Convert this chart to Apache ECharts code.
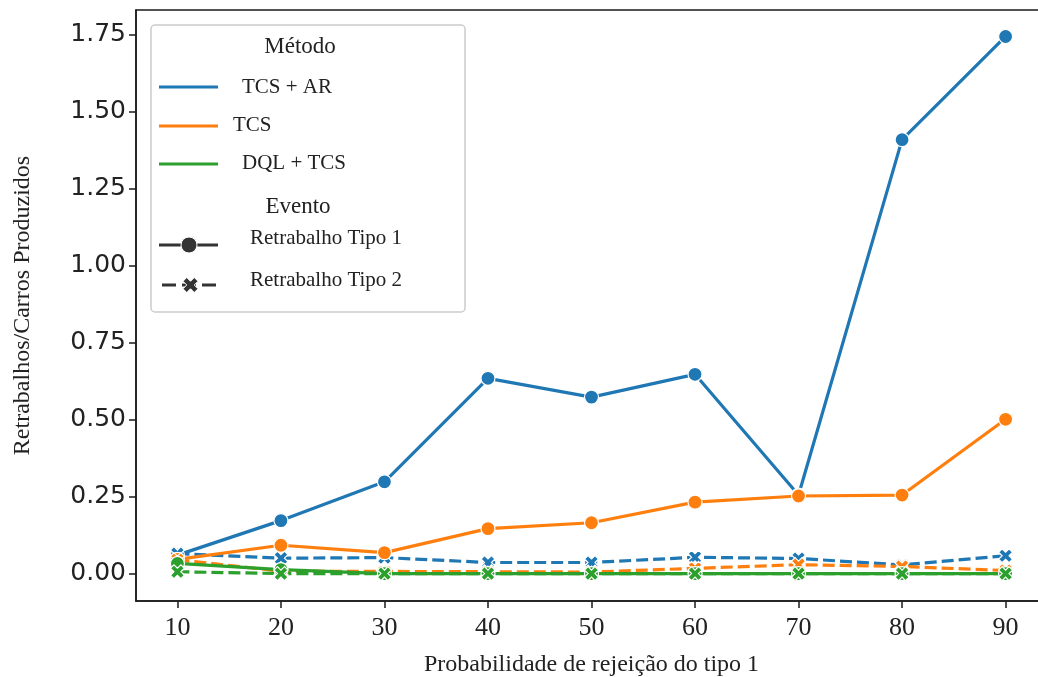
<!DOCTYPE html>
<html><head><meta charset="utf-8">
<script src="https://cdn.jsdelivr.net/npm/echarts@6/dist/echarts.min.js"></script>
<style>html,body{margin:0;padding:0;background:#fff}#c{width:1038px;height:677px}</style>
</head><body><div id="c"></div>
<script>
const xValues = [10, 20, 30, 40, 50, 60, 70, 80, 90];
const yTicks = [0, 0.25, 0.5, 0.75, 1.0, 1.25, 1.5, 1.75];
const tcsArTipo1 = [0.06, 0.172, 0.298, 0.634, 0.573, 0.647, 0.255, 1.409, 1.744];
const tcsTipo1 = [0.046, 0.092, 0.068, 0.146, 0.165, 0.232, 0.252, 0.255, 0.501];
const dqlTcsTipo1 = [0.033, 0.013, 0.0, 0.0, 0.0, 0.0, 0.0, 0.0, 0.0];
const tcsArTipo2 = [0.065, 0.05, 0.052, 0.036, 0.036, 0.053, 0.049, 0.028, 0.058];
const tcsTipo2 = [0.045, 0.008, 0.007, 0.006, 0.005, 0.017, 0.029, 0.023, 0.01];
const dqlTcsTipo2 = [0.006, 0.0, 0.0, 0.0, 0.0, 0.0, 0.0, 0.0, 0.0];

const BLUE = '#1f77b4', ORANGE = '#ff7f0e', GREEN = '#2ca02c';
const XSHAPE = [[0,3],[3,0],[6,3],[9,0],[12,3],[9,6],[12,9],[9,12],[6,9],[3,12],[0,9],[3,6]];
const XPATH = 'path://M' + XSHAPE.map(p => p.join(',')).join(' L') + ' Z';
const pairs = a => xValues.map((x, i) => [x, a[i]]);

function mk(name, data, color, dashed) {
  return {
    name: name, type: 'line', data: pairs(data),
    symbol: dashed ? XPATH : 'circle',
    symbolSize: 14,
    showSymbol: true,
    lineStyle: { color: color, width: 3.2, type: dashed ? [12, 5] : 'solid' },
    itemStyle: { color: color, borderColor: '#fff', borderWidth: 1.2 },
    emphasis: { disabled: true },
    animation: false
  };
}
const xPts = XSHAPE.map(p => [183 + p[0]*1.25, 277.5 + p[1]*1.25]);

const chart = echarts.init(document.getElementById('c'), null, { renderer: 'canvas' });
const serif = 'Liberation Serif';
const lx = 159, lx2 = 218;
const entryFont = '21px "Liberation Serif"', titleFont = '23px "Liberation Serif"';
chart.setOption({
  backgroundColor: '#fff',
  animation: false,
  grid: { left: 136, top: 10, width: 911, height: 591, outerBoundsMode: 'none', containLabel: false, show: true, borderColor: '#1a1a1a', borderWidth: 1.5, backgroundColor: 'transparent' },
  xAxis: {
    type: 'value', min: 6, max: 94,
    name: 'Probabilidade de rejeição do tipo 1', nameLocation: 'middle', nameGap: 52,
    nameTextStyle: { fontFamily: serif, fontSize: 24, color: '#222' },
    axisLine: { show: true, onZero: false, lineStyle: { color: '#1a1a1a', width: 1.5 } },
    axisTick: { show: true, length: 7, customValues: xValues, lineStyle: { color: '#1a1a1a', width: 1.5 } },
    axisLabel: { customValues: xValues, fontFamily: serif, fontSize: 26, color: '#222', margin: 14 },
    splitLine: { show: false }
  },
  yAxis: {
    type: 'value', min: -0.089, max: 1.83,
    name: 'Retrabalhos/Carros Produzidos', nameLocation: 'middle', nameGap: 101, nameRotate: 90,
    nameTextStyle: { fontFamily: serif, fontSize: 24, color: '#222' },
    axisLine: { show: true, onZero: false, lineStyle: { color: '#1a1a1a', width: 1.5 } },
    axisTick: { show: true, length: 7, customValues: yTicks, lineStyle: { color: '#1a1a1a', width: 1.5 } },
    axisLabel: { customValues: yTicks, formatter: v => v.toFixed(2), fontFamily: 'DejaVu Sans', fontSize: 25, color: '#222', margin: 10 },
    splitLine: { show: false }
  },
  series: [
    mk('TCS + AR / Tipo 1', tcsArTipo1, BLUE, false),
    mk('TCS + AR / Tipo 2', tcsArTipo2, BLUE, true),
    mk('TCS / Tipo 1', tcsTipo1, ORANGE, false),
    mk('TCS / Tipo 2', tcsTipo2, ORANGE, true),
    mk('DQL + TCS / Tipo 1', dqlTcsTipo1, GREEN, false),
    mk('DQL + TCS / Tipo 2', dqlTcsTipo2, GREEN, true)
  ],
  graphic: [
    { type: 'rect', shape: { x: 151, y: 25, width: 314, height: 287, r: 4 }, style: { fill: 'rgba(255,255,255,0.85)', stroke: '#cccccc', lineWidth: 1.5 }, z: 100 },
    { type: 'text', x: 300, y: 47, style: { text: 'Método', font: titleFont, fill: '#222', align: 'center', verticalAlign: 'middle' }, z: 101 },
    { type: 'line', shape: { x1: lx, y1: 87, x2: lx2, y2: 87 }, style: { stroke: BLUE, lineWidth: 3 }, z: 101 },
    { type: 'text', x: 242, y: 87, style: { text: 'TCS + AR', font: entryFont, fill: '#222', verticalAlign: 'middle' }, z: 101 },
    { type: 'line', shape: { x1: lx, y1: 126, x2: lx2, y2: 126 }, style: { stroke: ORANGE, lineWidth: 3 }, z: 101 },
    { type: 'text', x: 233, y: 125, style: { text: 'TCS', font: entryFont, fill: '#222', verticalAlign: 'middle' }, z: 101 },
    { type: 'line', shape: { x1: lx, y1: 164, x2: lx2, y2: 164 }, style: { stroke: GREEN, lineWidth: 3 }, z: 101 },
    { type: 'text', x: 242, y: 163, style: { text: 'DQL + TCS', font: entryFont, fill: '#222', verticalAlign: 'middle' }, z: 101 },
    { type: 'text', x: 298, y: 207, style: { text: 'Evento', font: titleFont, fill: '#222', align: 'center', verticalAlign: 'middle' }, z: 101 },
    { type: 'line', shape: { x1: lx, y1: 245, x2: lx2, y2: 245 }, style: { stroke: '#333', lineWidth: 3 }, z: 101 },
    { type: 'circle', shape: { cx: 189, cy: 245, r: 8 }, style: { fill: '#333', stroke: '#fff', lineWidth: 1 }, z: 102 },
    { type: 'text', x: 250, y: 238, style: { text: 'Retrabalho Tipo 1', font: entryFont, fill: '#222', verticalAlign: 'middle' }, z: 101 },
    { type: 'line', shape: { x1: lx + 3, y1: 285, x2: lx2, y2: 285 }, style: { stroke: '#333', lineWidth: 3, lineDash: [14, 6] }, z: 101 },
    { type: 'polygon', shape: { points: xPts }, style: { fill: '#333', stroke: '#fff', lineWidth: 1 }, z: 102 },
    { type: 'text', x: 250, y: 280, style: { text: 'Retrabalho Tipo 2', font: entryFont, fill: '#222', verticalAlign: 'middle' }, z: 101 }
  ]
});
</script></body></html>
